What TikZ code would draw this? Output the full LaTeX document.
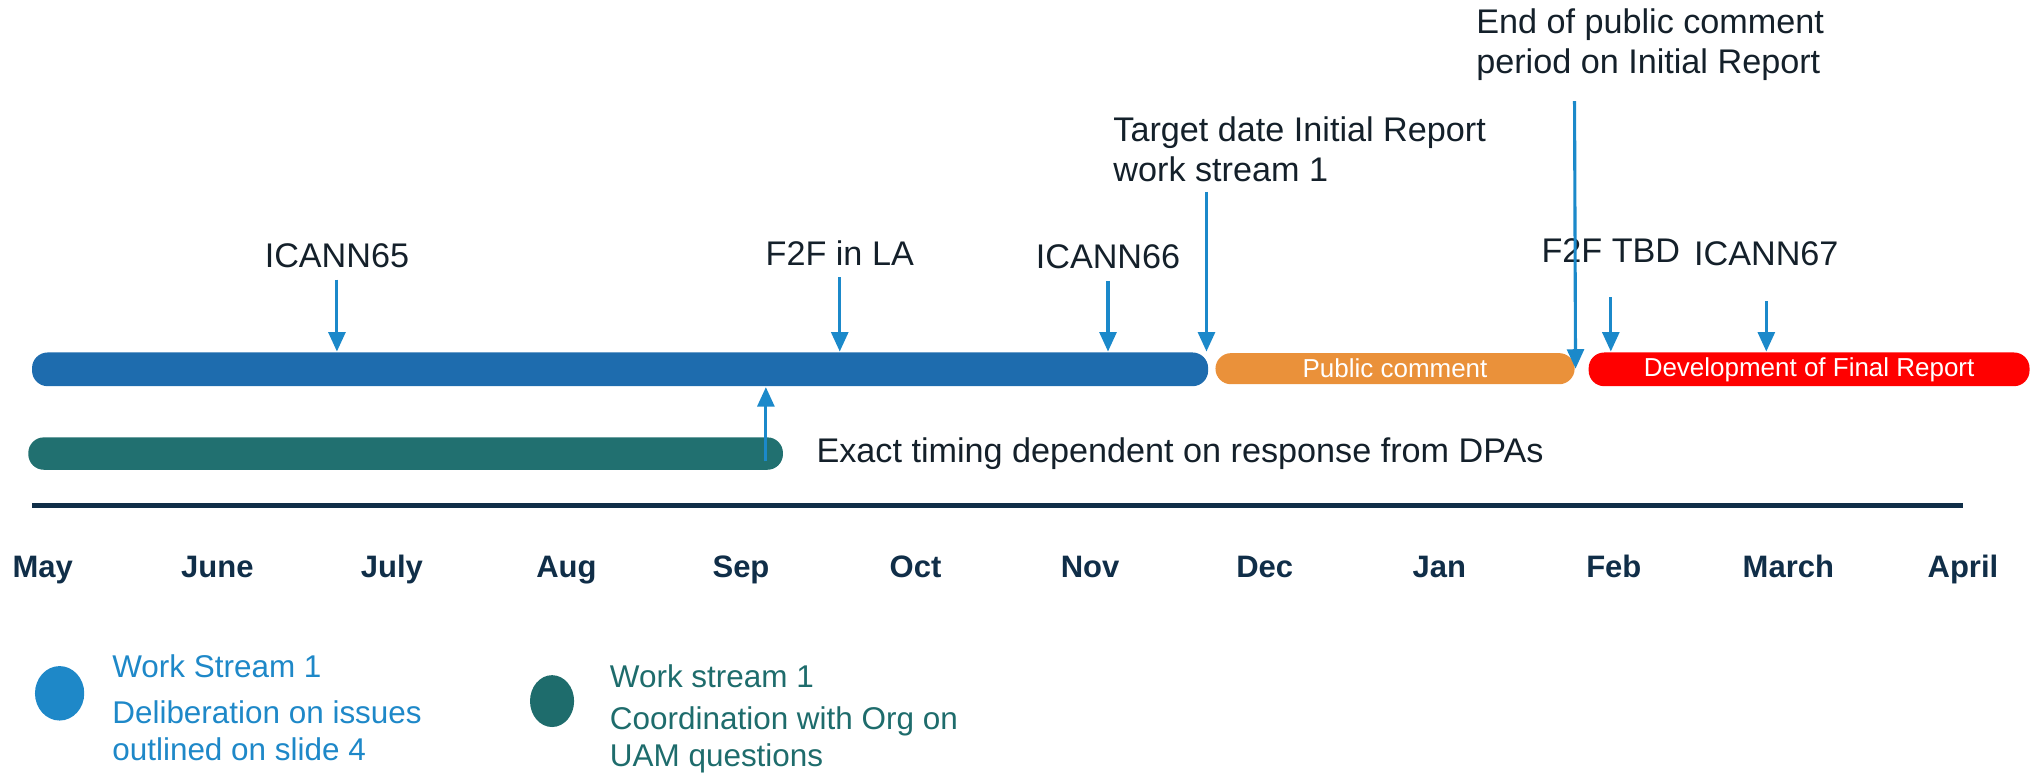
\documentclass[tikz,border=0pt]{standalone}
\usepackage{fontspec}
\setmainfont{Liberation Sans}
\usepackage{tikz}
\usetikzlibrary{positioning,calc,arrows.meta,shapes.geometric,fit}
\definecolor{wsblue}{HTML}{1E6CAE}
\definecolor{wsteal}{HTML}{217070}
\definecolor{pcorange}{HTML}{EA913A}
\definecolor{frred}{HTML}{FF0000}
\definecolor{arrowblue}{HTML}{1B89CA}
\definecolor{darktext}{HTML}{14202A}
\definecolor{monthnavy}{HTML}{102E48}
\definecolor{legblue}{HTML}{1E88C8}
\definecolor{legteal}{HTML}{1E6C6C}

\begin{document}
\begin{tikzpicture}[x=0.01cm,y=-0.01cm,
bar/.style={rectangle,rounded corners=1.2mm,minimum height=2.6mm,inner sep=0pt,
  text=white,font=\fontsize{5.7}{6.5}\selectfont},
lbl/.style={inner sep=1pt,text=darktext,font=\fontsize{7.5}{8.8}\selectfont},
month/.style={text=monthnavy,anchor=base,font=\fontsize{6.8}{8}\selectfont\bfseries},
leg/.style={inner sep=0pt,align=left,font=\fontsize{6.9}{8}\selectfont},
dot/.style={ellipse,inner sep=0pt,minimum width=3.8mm,minimum height=4.2mm},
edge/.style={-{Triangle[length=1.5mm,width=1.3mm]},color=arrowblue,line width=0.24mm}]

\useasboundingbox (0,0) rectangle (1568,598.8);

% bars
\node[bar,fill=wsblue,minimum width=9.07cm] (ws1) at (478.5,285) {};
\node[bar,fill=pcorange,minimum width=2.77cm,minimum height=2.4mm] (pc) at (1076.5,284.5) {Public comment};
\node[bar,fill=frred,minimum width=3.4cm] (fr) at (1396,285) {Development of Final Report};
\node[bar,fill=wsteal,minimum width=5.82cm,minimum height=2.5mm] (dpa) at (313,350) {};

% axis
\coordinate (axisL) at (25,390);
\coordinate (axisR) at (1515,390);
\draw[monthnavy,line width=1pt] (axisL) -- (axisR);

% months
\foreach \m [count=\i from 0] in {May,June,July,Aug,Sep,Oct,Nov,Dec,Jan,Feb,March,April}
  \node[month] (m\i) at (33+134.7*\i,446) {\m};

% milestone labels
\node[lbl] (icann65) at (260,197) {ICANN65};
\node[lbl] (f2fla) at (648,195) {F2F in LA};
\node[lbl] (icann66) at (855,198) {ICANN66};
\node[lbl] (f2ftbd) at (1243,193) {F2F TBD};
\node[lbl] (icann67) at (1363,196) {ICANN67};
\node[lbl,align=left,anchor=west] (target) at (855,115.5) {Target date Initial Report\\work stream 1};
\node[lbl,align=left,anchor=west] (endpc) at (1135,34.5) {End of public comment\\period on Initial Report};
\node[lbl,right=2.1mm of dpa] (timing) {Exact timing dependent on response from DPAs};

% hidden start points
\coordinate (tgt) at (931,148);
\coordinate (eoc) at (1215,78);
\coordinate (up) at (591,356);

% arrows
\draw[edge,shorten <=1.5pt] (icann65.south) -- (icann65.south |- ws1.north);
\draw[edge,shorten <=1.5pt] (f2fla.south) -- (f2fla.south |- ws1.north);
\draw[edge,shorten <=1.5pt] (icann66.south) -- (icann66.south |- ws1.north);
\draw[edge,shorten <=6.5pt] (f2ftbd.south) -- (f2ftbd.south |- fr.north);
\draw[edge,shorten <=6.5pt] (icann67.south) -- (icann67.south |- fr.north);
\draw[edge] (tgt) -- (tgt |- ws1.north);
\draw[edge] (eoc) -- (pc.east);
\draw[edge] (up) -- (up |- ws1.south);

% legend
\node[dot,fill=legblue] (dot1) at (46,535) {};
\node[leg,text=legblue,anchor=west] (leg1) at (86,514) {Work Stream 1};
\node[leg,text=legblue,anchor=west] (leg1b) at (86,564) {Deliberation on issues\\outlined on slide 4};
\node[dot,fill=legteal,minimum width=3.4mm,minimum height=4mm] (dot2) at (426,541) {};
\node[leg,text=legteal,anchor=west] (leg2) at (470,522) {Work stream 1};
\node[leg,text=legteal,anchor=west] (leg2b) at (470,571) {Coordination with Org on\\UAM questions};

\end{tikzpicture}
\end{document}
